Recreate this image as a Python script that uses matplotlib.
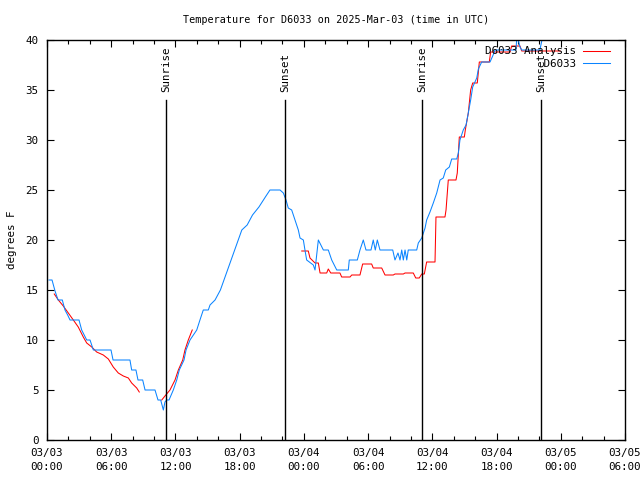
import numpy as np
import pandas as pd
import matplotlib
matplotlib.use("Agg")
import matplotlib.pyplot as plt
import matplotlib.dates as mdates

plt.rcParams['font.family'] = ['DejaVu Sans Mono']
plt.rcParams['font.size'] = 7.8

start = pd.Timestamp("2025-03-03 00:00")
end = pd.Timestamp("2025-03-05 06:00")

# observed station temps (hours after start, degrees F)
obs_hours = [0.19, 0.47, 0.75, 1.03, 1.43, 1.68, 1.93, 2.15, 2.99, 3.24, 3.71, 4.02, 4.33,
             5.98, 6.17, 7.75, 7.91, 8.31, 8.50, 8.94, 9.16, 10.09, 10.37, 10.62, 10.87,
             11.02, 11.18, 11.40, 11.80, 12.12, 12.36, 12.80, 12.99, 13.36, 13.99, 14.29,
             14.60, 15.07, 15.23, 15.70, 16.2, 16.7, 17.2, 17.7, 18.2, 18.7, 19.2, 19.8,
             20.4, 20.83, 21.77, 22.08, 22.33, 22.54, 22.86, 23.17, 23.48, 23.64, 23.95,
             24.10, 24.26, 24.88, 25.04, 25.35, 25.82, 26.28, 26.60, 27.07, 28.15, 28.24,
             28.99, 29.24, 29.55, 29.80, 30.27, 30.48, 30.67, 30.86, 31.11, 32.30, 32.51,
             32.79, 32.98, 33.14, 33.29, 33.45, 33.61, 33.75, 34.54, 34.69, 35.01, 35.32,
             35.47, 35.78, 36.09, 36.41, 36.72, 37.02, 37.25, 37.59, 37.81, 38.28, 38.43,
             38.58, 38.89, 39.15, 39.36, 39.58, 39.77, 40.15, 40.30, 40.61, 41.39, 41.76,
             41.85, 43.81, 43.91, 44.19, 44.35, 46.05, 46.43, 46.8, 48.0, 54.0]
obs_temps = [16, 16, 14.9, 14, 14, 13, 12.5, 12, 12, 11, 10, 10, 9,
             9, 8, 8, 7, 7, 6, 6, 5, 5, 4, 4, 3,
             3.8, 4, 4, 5, 6, 7, 8, 9, 10, 11, 12,
             13, 13, 13.5, 14, 15, 16.5, 18, 19.5, 21, 21.5, 22.5, 23.3,
             24.3, 25, 25, 24.7, 24, 23.2, 23, 22, 21, 20.2, 20,
             19, 18, 17.5, 17, 20, 19, 19, 18, 17, 17, 18,
             18, 19, 20, 19, 19, 20, 19, 20, 19, 19, 18,
             18.7, 18, 19, 18, 19, 18, 19, 19, 19.7, 20.2, 21.2,
             22, 22.8, 23.7, 24.7, 26, 26.2, 27, 27.3, 28.1, 28.1, 28.7,
             30, 31, 31.5, 32.7, 34, 35.3, 36.2, 37.1, 37.8, 37.8, 38.7,
             39, 39, 40.5, 39.3, 39, 39, 41, 42, 42, 42]

# analysis temps (NaN marks gaps)
ana_hours = [0.68, 1.06, 1.52, 1.99, 2.46, 2.92, 3.39, 3.71, 4.18, 4.64, 5.26, 5.73, 6.19,
             6.66, 7.13, 7.60, 7.91, 8.38, 8.62, 9.5,
             10.72, 11.02, 11.49, 11.96, 12.27, 12.68, 12.89, 13.20, 13.57, 14.0,
             23.80, 24.41, 24.57, 25.04, 25.35, 25.51, 26.13, 26.28, 26.51, 27.37, 27.53,
             28.31, 28.47, 29.24, 29.49, 30.33, 30.48, 31.27, 31.58, 32.35, 32.51, 33.29,
             33.45, 34.22, 34.45, 34.78, 35.01, 35.25, 35.47, 36.25, 36.34, 37.18, 37.28,
             37.49, 38.21, 38.33, 38.52, 38.99, 39.08, 39.36, 39.58, 39.77, 40.20, 40.39,
             41.32, 41.45, 43.26, 43.41, 44.19, 44.35, 47.93]
ana_temps = [14.6, 14, 13.4, 12.7, 12, 11.3, 10.3, 9.7, 9.3, 8.8, 8.5, 8.1, 7.3,
             6.7, 6.4, 6.2, 5.7, 5.2, 4.8, np.nan,
             4.0, 4.4, 5, 6, 7, 8, 9, 10, 11, np.nan,
             18.9, 18.9, 18.2, 17.7, 17.7, 16.7, 16.7, 17.1, 16.7, 16.7, 16.3,
             16.3, 16.5, 16.5, 17.6, 17.6, 17.2, 17.2, 16.5, 16.5, 16.6, 16.6,
             16.7, 16.7, 16.2, 16.2, 16.6, 16.6, 17.8, 17.8, 22.3, 22.3, 23,
             26, 26, 26.7, 30.3, 30.3, 31, 32.7, 35, 35.7, 35.7, 37.8,
             37.8, 38.8, 38.8, 39.4, 39.4, 38.9, 38.9]

sun_labels = ["Sunrise", "Sunset", "Sunrise", "Sunset"]
sun_hours = [11.12, 22.24, 35.05, 46.17]

def to_time(hours):
    return start + pd.to_timedelta(hours, unit="h")

fig = plt.figure(figsize=(6.4, 4.8), dpi=100)
ax = fig.add_axes([47/640, 40/480, 578/640, 400/480])

ax.plot(to_time(ana_hours), ana_temps, color='#ff0000', lw=0.75, label='D6033 Analysis')
ax.plot(to_time(obs_hours), obs_temps, color='#0a84ff', lw=0.75, label='         D6033')

for lab, h in zip(sun_labels, sun_hours):
    t = to_time(h)
    ax.axvline(t, ymin=0, ymax=34/40, color='black', lw=1)
    ax.text(t, 34.8, lab, rotation=90, ha='center', va='bottom')

ax.set_xlim(start, end)
ax.set_ylim(0, 40)
ax.set_yticks(range(0, 41, 5))
ax.xaxis.set_major_locator(mdates.HourLocator(byhour=[0, 6, 12, 18]))
ax.xaxis.set_major_formatter(mdates.DateFormatter('%m/%d\n%H:%M'))
ax.xaxis.set_minor_locator(mdates.HourLocator(byhour=range(0, 24, 2)))
ax.tick_params(which='both', direction='in', top=True, right=True, width=0.8)
ax.tick_params(which='major', length=5, pad=6)
ax.tick_params(which='minor', length=3)
for lbl in ax.get_xticklabels():
    lbl.set_linespacing(1.5)
for s in ax.spines.values():
    s.set_linewidth(1)

ax.set_ylabel('degrees F', labelpad=6)
ax.set_title('Temperature for D6033 on 2025-Mar-03 (time in UTC)', fontsize=7.3, pad=12)

leg = ax.legend(loc='upper right', frameon=False, markerfirst=False,
                handlelength=2.5, handletextpad=0.6, labelspacing=0.25,
                borderaxespad=0.2, bbox_to_anchor=(0.985, 1.0))

fig.savefig('out.png', dpi=100)
